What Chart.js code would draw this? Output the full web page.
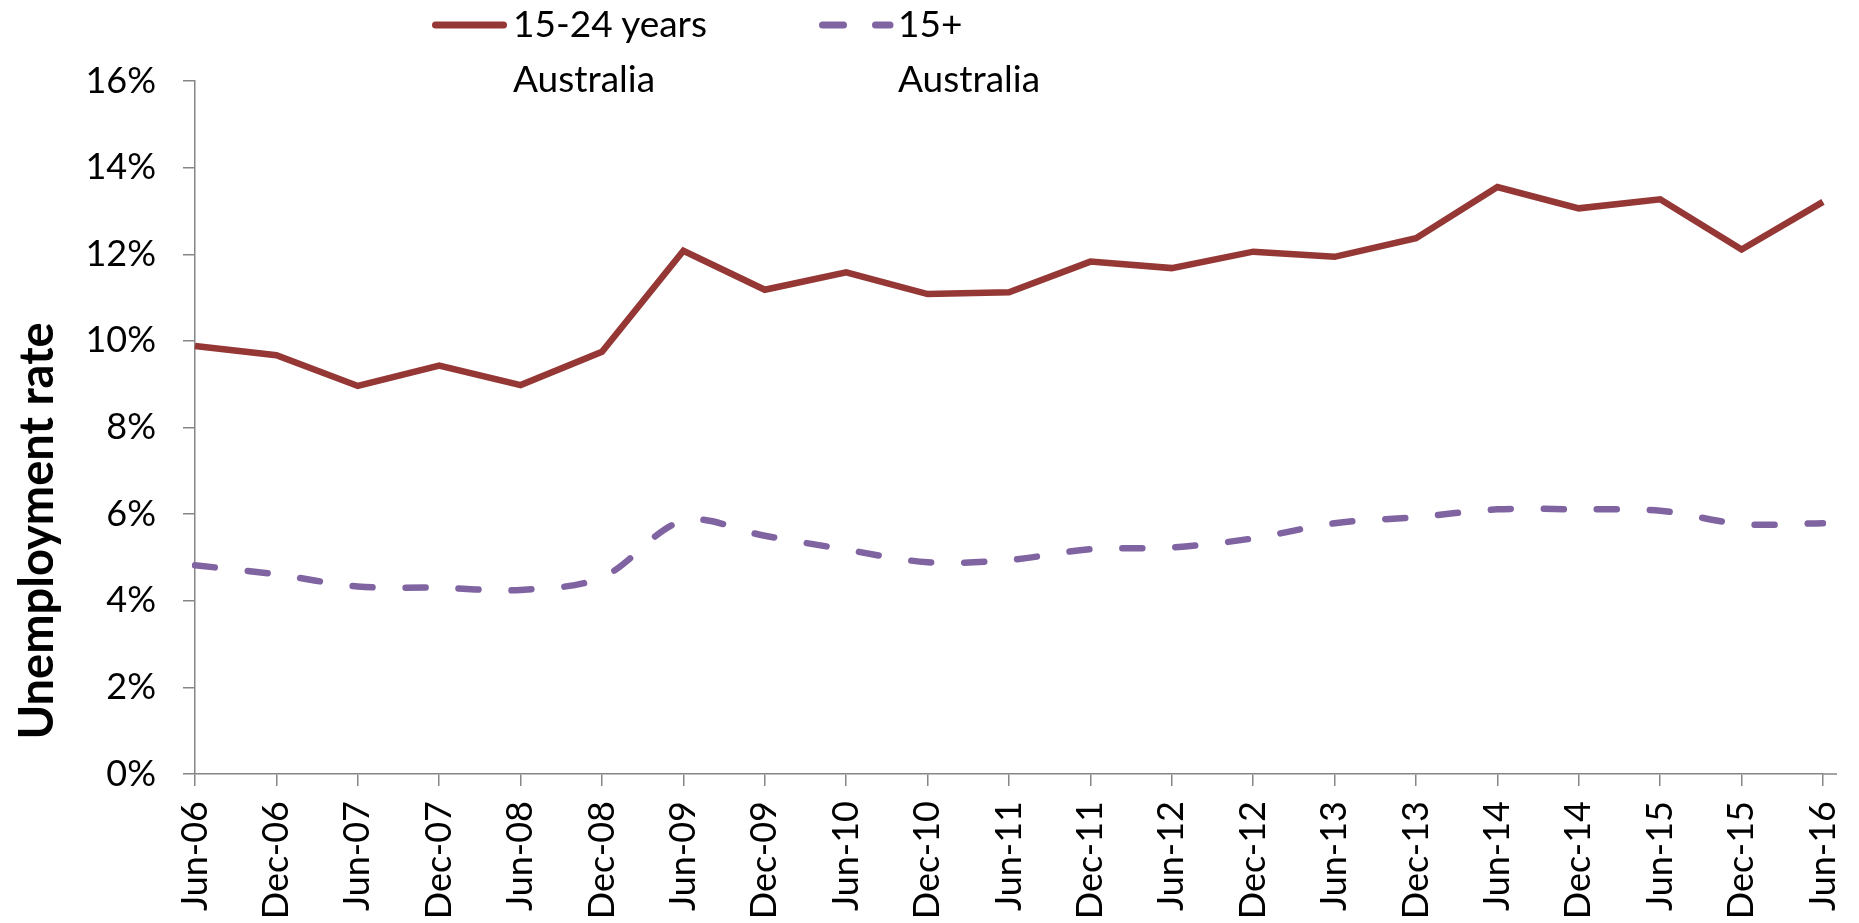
<!DOCTYPE html>
<html>
<head>
<meta charset="utf-8">
<script src="https://cdn.jsdelivr.net/npm/chart.js@4.4.0/dist/chart.umd.min.js"></script>
<style>
  html, body { margin: 0; padding: 0; background: #fff; }
  #wrap { position: relative; width: 1859px; height: 923px; font-family: Lato, "Open Sans", sans-serif; color: #000; }
  #wrap canvas { position: absolute; left: 0; top: 0; }
  #wrap svg { position: absolute; left: 0; top: 0; }
  .leg { position: absolute; top: -5px; font-size: 37px; line-height: 55px; white-space: nowrap; }
  .ytitle { position: absolute; left: -215px; top: 506px; width: 500px; height: 50px; line-height: 50px;
            text-align: center; font-size: 47px; font-weight: bold; transform: rotate(-90deg); }
</style>
</head>
<body>
<div id="wrap">
  <canvas id="unempChart" width="1859" height="923"></canvas>
  <svg width="1859" height="110">
    <line x1="435.5" y1="25" x2="503.5" y2="25" stroke="#953735" stroke-width="7" stroke-linecap="round"/>
    <line x1="822.5" y1="25" x2="890" y2="25" stroke="#8064a2" stroke-width="7" stroke-linecap="round" stroke-dasharray="21 32"/>
  </svg>
  <div class="leg" style="left:513px">15-24 years<br>Australia</div>
  <div class="leg" style="left:898px">15+<br>Australia</div>
  <div class="ytitle">Unemployment rate</div>
</div>
<script>
// kategori (semesteran)
const labels = ["Jun-06", "Dec-06", "Jun-07", "Dec-07", "Jun-08", "Dec-08", "Jun-09", "Dec-09",
  "Jun-10", "Dec-10", "Jun-11", "Dec-11", "Jun-12", "Dec-12", "Jun-13", "Dec-13",
  "Jun-14", "Dec-14", "Jun-15", "Dec-15", "Jun-16"];

// tingkat pengangguran (%)
const youthRate = [9.88, 9.67, 8.96, 9.43, 8.98, 9.75, 12.08, 11.18, 11.58, 11.08, 11.12,
  11.83, 11.68, 12.06, 11.94, 12.37, 13.55, 13.06, 13.27, 12.11, 13.21];
const allRate = [4.82, 4.61, 4.33, 4.30, 4.25, 4.54, 5.85, 5.50, 5.18, 4.89, 4.94,
  5.19, 5.23, 5.44, 5.79, 5.93, 6.11, 6.11, 6.08, 5.77, 5.79];

// sumbu Y
const yMin = 0;
const yMax = 16;
const yStep = 2;

const axisColor = "#868686";

// garis sumbu X sedikit diperpanjang ke kanan (seperti di Excel)
const axisExtend = {
  id: "axisExtend",
  afterDraw(chart) {
    const c = chart.ctx, a = chart.chartArea;
    c.save();
    c.strokeStyle = axisColor;
    c.lineWidth = 1.5;
    c.beginPath();
    c.moveTo(a.right, a.bottom);
    c.lineTo(a.right + 14, a.bottom);
    c.stroke();
    c.restore();
  }
};

const ctx = document.getElementById("unempChart").getContext("2d");
const unempChart = new Chart(ctx, {
  type: "line",
  data: {
    labels: labels,
    datasets: [
      {
        label: "15-24 years Australia",
        data: youthRate,
        borderColor: "#953735",
        borderWidth: 6.5,
        borderJoinStyle: "miter",
        pointRadius: 0,
        tension: 0,
      },
      {
        label: "15+ Australia",
        data: allRate,
        borderColor: "#8064a2",
        borderWidth: 6.5,
        borderDash: [20, 33],
        borderCapStyle: "round",
        pointRadius: 0,
        tension: 0.33,
      },
    ],
  },
  options: {
    responsive: false,
    animation: false,
    layout: { padding: { top: 81, right: 36, left: 0, bottom: 0 } },
    plugins: {
      legend: { display: false },
      tooltip: { enabled: false },
    },
    scales: {
      x: {
        offset: false,
        grid: { display: true, drawOnChartArea: false, drawTicks: true, tickLength: 12, color: axisColor, lineWidth: 1.5 },
        border: { display: true, color: axisColor, width: 1.5 },
        ticks: {
          maxRotation: 90,
          minRotation: 90,
          autoSkip: false,
          padding: 15,
          color: "#000",
          font: { family: "Lato", size: 36 },
        },
        afterFit(scale) {
          scale.height = 149;
          scale.paddingLeft = 0;
          scale.paddingRight = 0;
        },
      },
      y: {
        min: yMin,
        max: yMax,
        grid: { display: true, drawOnChartArea: false, drawTicks: true, tickLength: 12, color: axisColor, lineWidth: 1.5 },
        border: { display: true, color: axisColor, width: 1.5 },
        ticks: {
          stepSize: yStep,
          padding: 27,
          color: "#000",
          font: { family: "Lato", size: 36 },
          callback: (v) => v + "%",
        },
        afterFit(scale) { scale.width = 195; },
      },
    },
  },
  plugins: [axisExtend],
});
</script>
</body>
</html>
